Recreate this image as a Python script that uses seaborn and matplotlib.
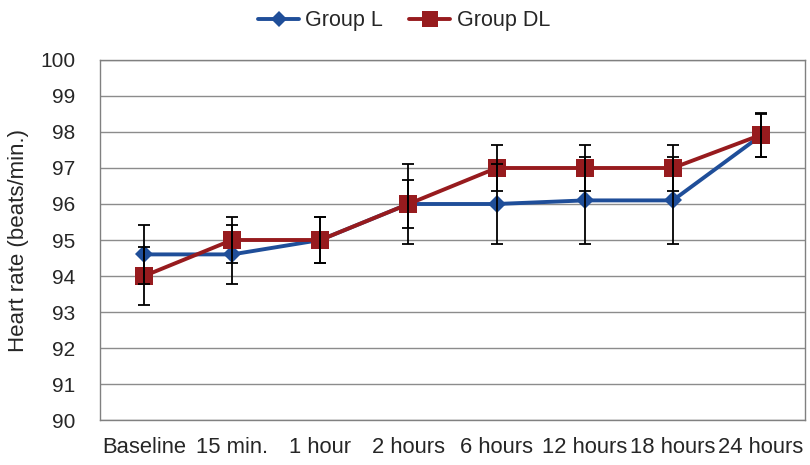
import numpy as np
import pandas as pd
import matplotlib
matplotlib.use("Agg")
import matplotlib.pyplot as plt
import seaborn as sns

# valeurs
temps = ["Baseline", "15 min.", "1 hour", "2 hours", "6 hours", "12 hours", "18 hours", "24 hours"]
group_L = [94.6, 94.6, 95.0, 96.0, 96.0, 96.1, 96.1, 97.9]
err_L = [0.82, 0.83, 0.65, 0.67, 1.11, 1.2, 1.2, 0.6]
group_DL = [94.0, 95.0, 95.0, 96.0, 97.0, 97.0, 97.0, 97.92]
err_DL = [0.81, 0.65, 0.65, 1.1, 0.64, 0.64, 0.64, 0.62]

sns.set_style("white")
plt.rcParams["font.family"] = ["Liberation Sans", "DejaVu Sans"]

pos = np.arange(len(temps))
df = pd.DataFrame({
    "pos": np.concatenate([pos, pos]),
    "hr": group_L + group_DL,
    "groupe": ["Group L"] * len(temps) + ["Group DL"] * len(temps),
})

couleurs = {"Group L": "#1f4e99", "Group DL": "#971b1e"}

fig = plt.figure(figsize=(8.1, 4.65), dpi=100)
ax = fig.add_axes([100 / 810, 1 - 420 / 465, 705 / 810, 360 / 465])

ax.errorbar(pos, group_L, yerr=err_L, fmt="none", ecolor="black", elinewidth=1.3,
            capsize=4.5, capthick=1.3, zorder=5)
ax.errorbar(pos, group_DL, yerr=err_DL, fmt="none", ecolor="black", elinewidth=1.3,
            capsize=4.5, capthick=1.3, zorder=5)

sns.lineplot(data=df, x="pos", y="hr", hue="groupe", style="groupe",
             markers={"Group L": "D", "Group DL": "s"}, dashes=False,
             palette=couleurs, linewidth=2.8, markeredgewidth=0,
             ax=ax, legend=False, zorder=3)
for l in ax.get_lines():
    if l.get_marker() == "D":
        l.set_markersize(9)
    elif l.get_marker() == "s":
        l.set_markersize(12.5)

ax.set_xlim(-0.5, len(temps) - 0.5)
ax.set_ylim(90, 100)
ax.set_yticks(range(90, 101))
ax.set_xticks(pos)
ax.set_xticklabels(temps)
ax.set_xticks(np.arange(-0.5, len(temps)), minor=True)
ax.tick_params(axis="x", which="major", length=0, labelsize=15.8, pad=12)
ax.tick_params(axis="x", which="minor", length=5, color="#808080", width=1, direction="out")
ax.tick_params(axis="y", length=6, color="#808080", width=1, direction="out", labelsize=15, pad=12)
ax.yaxis.grid(True, color="#8c8c8c", linewidth=1)
ax.set_axisbelow(True)
for s in ax.spines.values():
    s.set_color("#808080")
    s.set_linewidth(1)
ax.set_xlabel("")
ax.set_ylabel("Heart rate (beats/min.)", fontsize=16, labelpad=8)

from matplotlib.lines import Line2D
poignees = [
    Line2D([], [], color=couleurs["Group L"], marker="D", markersize=8, linewidth=2.8, markeredgewidth=0),
    Line2D([], [], color=couleurs["Group DL"], marker="s", markersize=12, linewidth=2.8, markeredgewidth=0),
]
fig.legend(poignees, ["Group L", "Group DL"], loc="upper center", bbox_to_anchor=(404 / 810, 1.02),
           ncol=2, frameon=False, fontsize=15.5, handlelength=1.9, handletextpad=0.3, columnspacing=1.2)

fig.savefig("out.png", dpi=100)
